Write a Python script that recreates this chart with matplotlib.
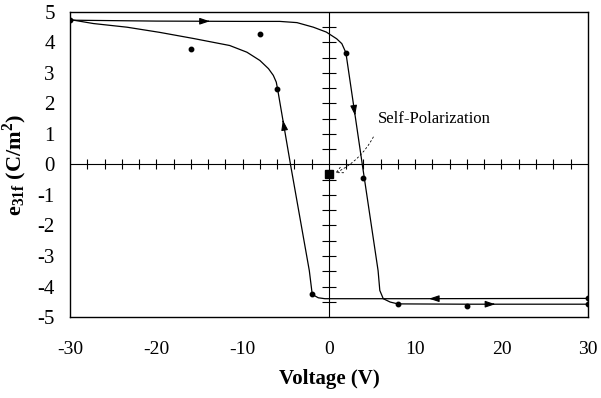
import numpy as np
import matplotlib
matplotlib.use("Agg")
import matplotlib.pyplot as plt

plt.rcParams['font.family'] = ['Liberation Serif', 'DejaVu Serif']
plt.rcParams['mathtext.fontset'] = 'custom'
plt.rcParams['mathtext.rm'] = 'Liberation Serif'
plt.rcParams['mathtext.bf'] = 'Liberation Serif:bold'
plt.rcParams['axes.unicode_minus'] = False

# measured points (Voltage V, e31f C/m2)
pts_v = [-30, -16, -8, -6, -2, 2, 4, 8, 16, 30, 30]
pts_e = [4.75, 3.78, 4.27, 2.48, -4.24, 3.66, -0.44, -4.57, -4.65, -4.39, -4.58]

# self-polarization point
self_v = [0]
self_e = [-0.32]

# branch going up in voltage (-30 -> +30)
up_v = [-30, -20, -10, -5.7, -3.7, -1.8, -0.3, 0.9, 1.5, 1.85, 1.97, 3.87, 5.7, 5.9, 6.3, 7.1, 8.0, 16, 30]
up_e = [4.73, 4.70, 4.69, 4.69, 4.65, 4.50, 4.34, 4.12, 3.96, 3.74, 3.66, 0.0, -3.48, -4.13, -4.40, -4.51, -4.57, -4.58, -4.58]

# branch coming back (+30 -> -30)
down_v = [30, 10, 0, -0.46, -1.23, -1.93, -2.27, -4.45, -5.95, -6.1, -6.44, -7.0, -8.0, -9.5,
          -11.5, -15.7, -19.6, -23.4, -27.3, -30]
down_e = [-4.39, -4.40, -4.40, -4.40, -4.37, -4.26, -3.48, 0.0, 2.48, 2.70, 2.92, 3.14, 3.41, 3.68,
          3.90, 4.13, 4.33, 4.50, 4.62, 4.75]

# where arrows sit on each branch (voltage)
up_arrows = [-14, 3.0, 19]
down_arrows = [12, -5.3]

x_ticks = [-30, -20, -10, 0, 10, 20, 30]
y_ticks = [-5, -4, -3, -2, -1, 0, 1, 2, 3, 4, 5]

fig = plt.figure(figsize=(6.01, 3.98), dpi=100)
ax = fig.add_axes([0.1165, 0.2035, 0.8615, 0.7665])

ax.plot(up_v, up_e, color='black', lw=0.9)
ax.plot(down_v, down_e, color='black', lw=0.9)
ax.plot(pts_v, pts_e, ls='none', marker='o', ms=3.2, color='black')
ax.plot(self_v, self_e, ls='none', marker='s', ms=5.5, color='black')


def put_arrow(vs, es, v, forward):
    # small arrow head along a branch at voltage v
    order = np.argsort(vs)
    xs = np.array(vs)[order]
    ys = np.array(es)[order]
    i = np.searchsorted(xs, v)
    i = min(max(i, 1), len(xs) - 1)
    dx = xs[i] - xs[i - 1]
    dy = ys[i] - ys[i - 1]
    y = np.interp(v, xs, ys)
    s = 0.02 if forward else -0.02
    ax.annotate('', xy=(v + s * dx, y + s * dy), xytext=(v, y),
                arrowprops=dict(arrowstyle='-|>,head_length=0.6,head_width=0.2',
                                color='black', lw=0.8, shrinkA=0, shrinkB=0))


for v in up_arrows:
    put_arrow(up_v, up_e, v, True)
for v in down_arrows:
    put_arrow(down_v, down_e, v, False)

# central cross axes with tick marks
ax.axhline(0, color='black', lw=0.8)
ax.axvline(0, color='black', lw=0.8)
xt = [t for t in range(-28, 30, 2) if t != 0]
yt = [t / 2 for t in range(-9, 10) if t != 0]
ax.plot(xt, np.zeros(len(xt)), ls='none', marker='|', ms=7, mew=0.8, color='black')
ax.plot(np.zeros(len(yt)), yt, ls='none', marker='_', ms=10, mew=0.8, color='black')

ax.annotate('Self-Polarization', xy=(0.6, -0.3), xytext=(5.7, 1.5),
            fontsize=12, va='center', ha='left',
            arrowprops=dict(arrowstyle='->', color='black', lw=0.6, ls=(0, (2, 3)),
                            connectionstyle='arc3,rad=-0.2',
                            relpos=(0.0, 0.0), shrinkA=6, shrinkB=1))

ax.set_xlim(-30, 30)
ax.set_ylim(-5, 5)
ax.set_xticks(x_ticks)
ax.set_yticks(y_ticks)
ax.tick_params(axis='x', length=0, pad=17, labelsize=14)
ax.tick_params(axis='y', length=0, pad=11, labelsize=15)
for sp in ax.spines.values():
    sp.set_linewidth(1.0)

ax.set_xlabel('Voltage (V)', fontsize=15, fontweight='bold', labelpad=8)
ax.set_ylabel(r'$\mathbf{e_{31f}}$ (C/m$^\mathbf{2}$)', fontsize=16, fontweight='bold')
ax.yaxis.set_label_coords(-0.079, 0.5)

fig.savefig('out.png', dpi=100)
